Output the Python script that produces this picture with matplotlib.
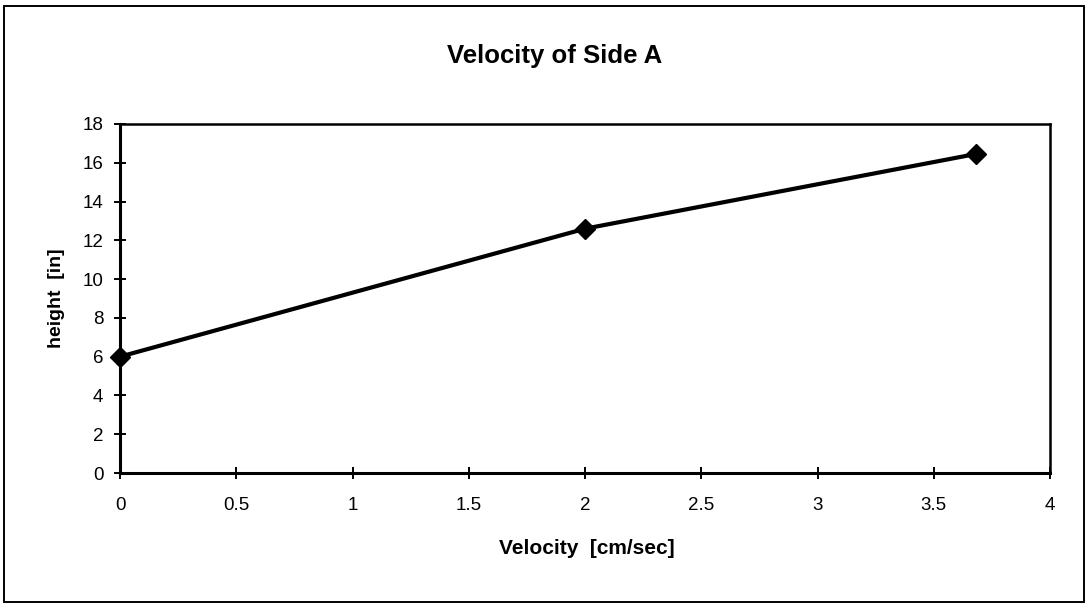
import matplotlib
matplotlib.use("Agg")
import matplotlib.pyplot as plt
from matplotlib.patches import Rectangle

# data
velocity = [0, 2, 3.68]
height = [6, 12.6, 16.45]

x_ticks = [0, 0.5, 1, 1.5, 2, 2.5, 3, 3.5, 4]
x_tick_labels = ["0", "0.5", "1", "1.5", "2", "2.5", "3", "3.5", "4"]
y_ticks = [0, 2, 4, 6, 8, 10, 12, 14, 16, 18]

title = "Velocity of Side A"
x_label = "Velocity  [cm/sec]"
y_label = "height  [in]"

plt.rcParams['font.family'] = ['Liberation Sans', 'DejaVu Sans']

fig = plt.figure(figsize=(10.87, 6.10), dpi=100)
ax = fig.add_axes([120 / 1087, 1 - 473 / 610, 930 / 1087, 349 / 610])

ax.plot(velocity, height, color="black", linewidth=3,
        marker="D", markersize=10.5, markerfacecolor="black", markeredgecolor="black",
        clip_on=False, zorder=5)

ax.set_xlim(0, 4)
ax.set_ylim(0, 18)
ax.set_xticks(x_ticks)
ax.set_xticklabels(x_tick_labels)
ax.set_yticks(y_ticks)

ax.tick_params(axis="both", direction="inout", length=8, width=1.4,
               labelsize=13.5, colors="black")
ax.tick_params(axis="x", pad=13)
ax.tick_params(axis="y", pad=8)

for side in ["left", "bottom"]:
    ax.spines[side].set_linewidth(2.2)
for side in ["top", "right"]:
    ax.spines[side].set_linewidth(1.8)

ax.set_xlabel(x_label, fontsize=15, fontweight="bold")
ax.set_ylabel(y_label, fontsize=14, fontweight="bold")
ax.xaxis.set_label_coords((587 - 120) / 930, -(548 - 473) / 349)
ax.xaxis.label.set_va("center")
ax.yaxis.set_label_coords(-(120 - 57) / 930, 0.5)
ax.yaxis.label.set_va("center")

fig.text(555 / 1087, 1 - 56 / 610, title, ha="center", va="center",
         fontsize=18.5, fontweight="bold")

# outer chart border
fig.patches.append(Rectangle((4 / 1087, 1 - 602 / 610), 1080 / 1087, 596 / 610,
                             transform=fig.transFigure, fill=False,
                             edgecolor="black", linewidth=1.4))

fig.savefig("out.png", dpi=100)
